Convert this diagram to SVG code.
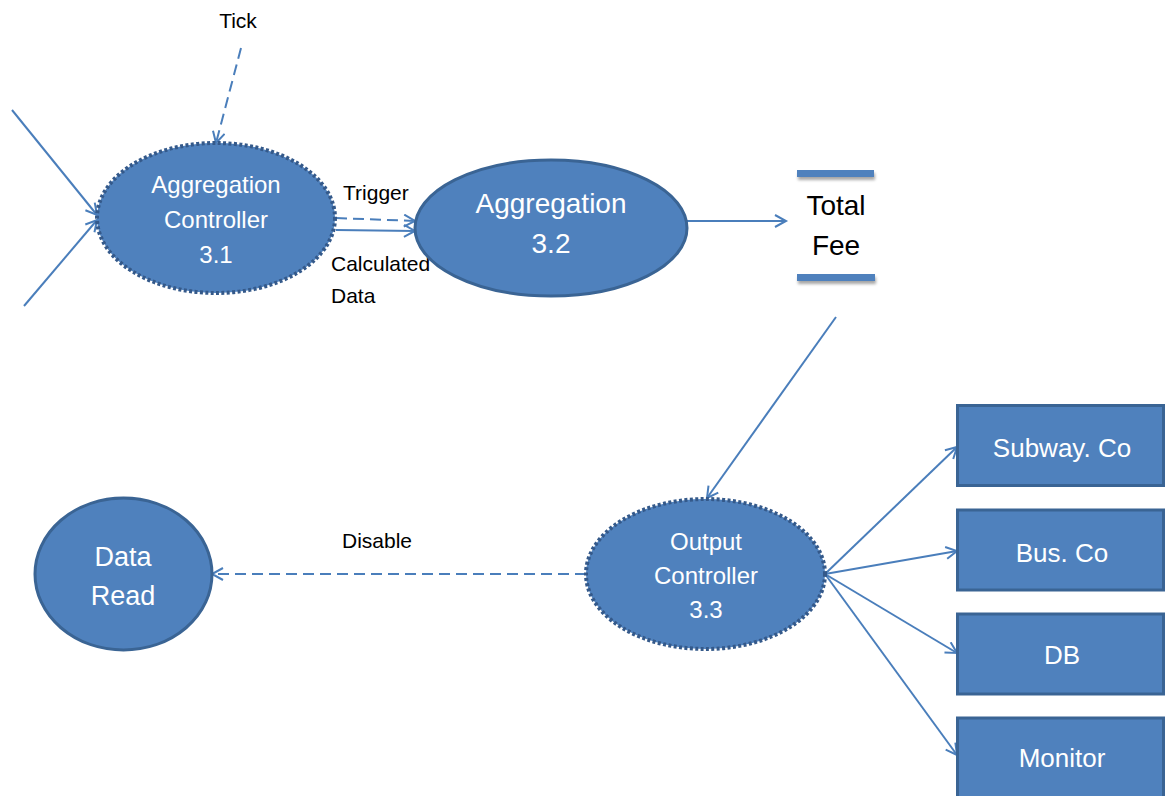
<svg xmlns="http://www.w3.org/2000/svg" width="1175" height="796" viewBox="0 0 1175 796">
<style>
.node{fill:#4F81BD;stroke:#3A6494;stroke-width:3}
.dot{fill:#4F81BD;stroke:#34598A;stroke-width:4;stroke-dasharray:3 2.4}
.wt{fill:#FFFFFF;font-family:"Liberation Sans",Arial,sans-serif;text-anchor:middle}
.bt{fill:#000000;font-family:"Liberation Sans",Arial,sans-serif}
.c{fill:none;stroke:#4A7EBB;stroke-width:2;marker-end:url(#ah)}
.dash{stroke-dasharray:11 6}
.bar{fill:#4F81BD}
</style>
<defs>
<marker id="ah" markerUnits="userSpaceOnUse" markerWidth="16" markerHeight="16" refX="12" refY="7" orient="auto">
<path d="M1,1 L12,7 L1,13" fill="none" stroke="#4A7EBB" stroke-width="2"/>
</marker>
<filter id="sh" x="-10%" y="-50%" width="120%" height="250%">
<feGaussianBlur in="SourceAlpha" stdDeviation="1.5"/>
<feOffset dx="1" dy="3" result="b"/>
<feComponentTransfer><feFuncA type="linear" slope="0.35"/></feComponentTransfer>
<feMerge><feMergeNode/><feMergeNode in="SourceGraphic"/></feMerge>
</filter>
</defs>
<rect width="1175" height="796" fill="#FFFFFF"/>

<g id="connectors">
<line class="c" x1="12" y1="110" x2="97" y2="215"/>
<line class="c" x1="24" y1="306" x2="97" y2="220"/>
<line class="c dash" x1="241" y1="48" x2="216" y2="143"/>
<line class="c dash" x1="336" y1="218" x2="415" y2="221"/>
<line class="c" x1="336" y1="230" x2="415" y2="231"/>
<line class="c" x1="687" y1="221" x2="786" y2="221"/>
<line class="c" x1="836" y1="317" x2="707" y2="498"/>
<line class="c dash" x1="586" y1="574" x2="212" y2="574"/>
<line class="c" x1="825" y1="574" x2="957" y2="447"/>
<line class="c" x1="825" y1="574" x2="957" y2="551"/>
<line class="c" x1="825" y1="574" x2="957" y2="653"/>
<line class="c" x1="825" y1="574" x2="957" y2="755"/>
<text class="bt" x="238" y="28" font-size="21" text-anchor="middle">Tick</text>
<text class="bt" x="343" y="200" font-size="21">Trigger</text>
<text class="bt" x="331" y="271" font-size="21">Calculated</text>
<text class="bt" x="331" y="303" font-size="21">Data</text>
<text class="bt" x="377" y="548" font-size="21" text-anchor="middle">Disable</text>
</g>

<g id="aggregation-controller">
<ellipse class="dot" cx="216" cy="218" rx="119" ry="75"/>
<text class="wt" x="216" y="193" font-size="24">Aggregation</text>
<text class="wt" x="216" y="228" font-size="24">Controller</text>
<text class="wt" x="216" y="263" font-size="24">3.1</text>
</g>

<g id="aggregation">
<ellipse class="node" cx="551" cy="228" rx="136" ry="68"/>
<text class="wt" x="551" y="213" font-size="28">Aggregation</text>
<text class="wt" x="551" y="253" font-size="28">3.2</text>
</g>

<g id="total-fee">
<rect class="bar" x="797" y="170" width="77" height="7" filter="url(#sh)"/>
<rect class="bar" x="797" y="274" width="78" height="7" filter="url(#sh)"/>
<text class="bt" x="836" y="215" font-size="28" text-anchor="middle">Total</text>
<text class="bt" x="836" y="255" font-size="28" text-anchor="middle">Fee</text>
</g>

<g id="output-controller">
<ellipse class="dot" cx="705.5" cy="574" rx="119.5" ry="75"/>
<text class="wt" x="706" y="550" font-size="24">Output</text>
<text class="wt" x="706" y="584" font-size="24">Controller</text>
<text class="wt" x="706" y="618" font-size="24">3.3</text>
</g>

<g id="data-read">
<ellipse class="node" cx="123.5" cy="574" rx="88.5" ry="76"/>
<text class="wt" x="123" y="566" font-size="27">Data</text>
<text class="wt" x="123" y="605" font-size="27">Read</text>
</g>

<g id="subway-co">
<rect class="node" x="957.5" y="405.5" width="206" height="80"/>
<text class="wt" x="1062" y="457" font-size="26">Subway.  Co</text>
</g>

<g id="bus-co">
<rect class="node" x="957.5" y="510" width="206" height="80"/>
<text class="wt" x="1062" y="562" font-size="26">Bus. Co</text>
</g>

<g id="db">
<rect class="node" x="957.5" y="614" width="206" height="80"/>
<text class="wt" x="1062" y="664" font-size="26">DB</text>
</g>

<g id="monitor">
<rect class="node" x="957.5" y="718" width="206" height="90"/>
<text class="wt" x="1062" y="767" font-size="26">Monitor</text>
</g>
</svg>
